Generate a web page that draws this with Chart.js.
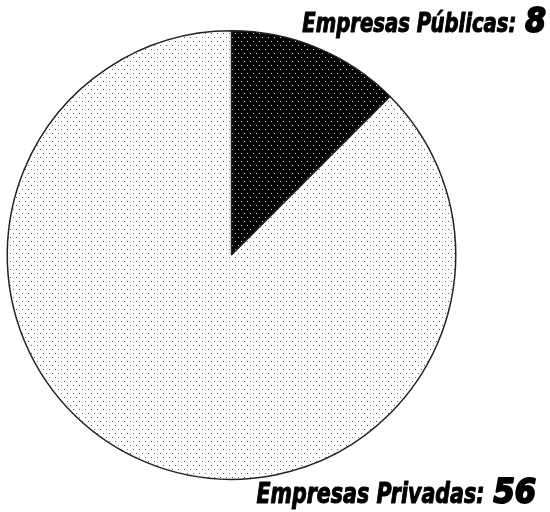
<!DOCTYPE html>
<html lang="es">
  <head>
    <meta charset="UTF-8" />
    <title>Empresas</title>
    <script src="https://cdn.jsdelivr.net/npm/chart.js@4/dist/chart.umd.min.js"></script>
    <style>
      html, body { margin: 0; padding: 0; background: #fff; }
      #wrap { width: 550px; height: 512px; }
    </style>
  </head>
  <body>
    <div id="wrap"><canvas id="chart"></canvas></div>
    <script>
      const labels = ['Empresas Públicas', 'Empresas Privadas']
      const values = [8, 56]

      // dotted fills like the old printout
      const makePattern = (bg, dot) => {
        const c = document.createElement('canvas')
        c.width = 6
        c.height = 8
        const x = c.getContext('2d')
        x.fillStyle = bg
        x.fillRect(0, 0, 6, 8)
        x.fillStyle = dot
        x.fillRect(1, 1, 1, 1)
        x.fillRect(4, 5, 1, 1)
        return x.createPattern(c, 'repeat')
      }

      const font = '"DejaVu Sans Condensed", "DejaVu Sans", sans-serif'

      // label text for each slice, stretched to fit like the original lettering
      const labelPos = [
        { right: 546, base: 32, width: 214, size: 27, numSize: 33 },
        { right: 536, base: 503, width: 228, size: 28, numSize: 34 },
      ]

      const sliceLabels = {
        id: 'sliceLabels',
        afterDraw(chart) {
          const ctx = chart.ctx
          ctx.save()
          ctx.fillStyle = '#000'
          ctx.strokeStyle = '#000'
          ctx.lineJoin = 'round'
          ctx.textBaseline = 'alphabetic'
          labels.forEach((lab, i) => {
            const p = labelPos[i]
            ctx.font = `italic bold ${p.numSize}px ${font}`
            const num = String(values[i])
            const nw = ctx.measureText(num).width
            ctx.textAlign = 'right'
            ctx.lineWidth = 2
            ctx.fillText(num, p.right, p.base)
            ctx.strokeText(num, p.right, p.base)
            ctx.font = `italic bold ${p.size}px ${font}`
            const txt = lab + ':'
            const tw = ctx.measureText(txt).width
            const sx = p.width / tw
            const endX = p.right - nw - 9
            ctx.save()
            ctx.translate(endX, p.base)
            ctx.scale(sx, 1)
            ctx.lineWidth = 1
            ctx.fillText(txt, 0, 0)
            ctx.strokeText(txt, 0, 0)
            ctx.restore()
          })
          ctx.restore()
        },
      }

      new Chart(document.getElementById('chart'), {
        type: 'pie',
        data: {
          labels: labels,
          datasets: [
            {
              data: values,
              backgroundColor: [
                makePattern('#000', '#ddd'),
                makePattern('#fff', '#666'),
              ],
              borderColor: '#222',
              borderWidth: 1.5,
              hoverOffset: 0,
            },
          ],
        },
        options: {
          responsive: true,
          maintainAspectRatio: false,
          animation: false,
          layout: {
            padding: { left: 6, right: 93, top: 30, bottom: 32 },
          },
          plugins: {
            legend: { display: false },
            tooltip: { enabled: false },
          },
        },
        plugins: [sliceLabels],
      })
    </script>
  </body>
</html>
